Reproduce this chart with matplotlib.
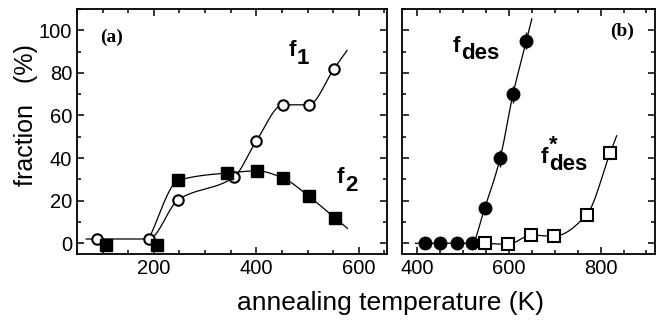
import numpy as np
import matplotlib
matplotlib.use("Agg")
import matplotlib.pyplot as plt
from matplotlib.ticker import MultipleLocator

plt.rcParams['font.family'] = ['Liberation Sans', 'DejaVu Sans']

# panel (a)
f1_temp = [90, 190, 248, 356, 400, 452, 502, 552]
f1_val = [2, 2, 20.5, 31, 48, 65, 65, 82]
f2_temp = [106, 206, 248, 343, 402, 453, 503, 553]
f2_val = [-1, -1, 29.5, 33, 34, 30.5, 22, 12]

# panel (b)
fdes_temp = [418, 450, 487, 519, 547, 581, 609, 638]
fdes_val = [0, 0, 0, 0, 16.5, 40, 70, 95]
fdes_err = [0, 0, 0, 0, 2, 4, 4, 4]
fstar_temp = [548, 598, 649, 698, 770, 821]
fstar_val = [0, -0.5, 3.8, 3.3, 13.5, 42.5]


def pchip(x, y, xs):
    x = np.asarray(x, float)
    y = np.asarray(y, float)
    h = np.diff(x)
    d = np.diff(y) / h
    m = np.zeros_like(y)
    m[0], m[-1] = d[0], d[-1]
    for k in range(1, len(x) - 1):
        if d[k - 1] * d[k] > 0:
            w1 = 2 * h[k] + h[k - 1]
            w2 = h[k] + 2 * h[k - 1]
            m[k] = (w1 + w2) / (w1 / d[k - 1] + w2 / d[k])
    i = np.clip(np.searchsorted(x, xs) - 1, 0, len(x) - 2)
    t = (xs - x[i]) / h[i]
    h00 = 2 * t**3 - 3 * t**2 + 1
    h10 = t**3 - 2 * t**2 + t
    h01 = -2 * t**3 + 3 * t**2
    h11 = t**3 - t**2
    return h00 * y[i] + h10 * h[i] * m[i] + h01 * y[i + 1] + h11 * h[i] * m[i + 1], m


def guide(ax, x, y, left=0, right=0):
    xs = np.linspace(x[0], x[-1], 300)
    ys, m = pchip(x, y, xs)
    if left:
        xs = np.r_[x[0] - left, xs]
        ys = np.r_[y[0] - m[0] * left, ys]
    if right:
        xs = np.r_[xs, x[-1] + right]
        ys = np.r_[ys, y[-1] + m[-1] * right]
    ax.plot(xs, ys, color='black', lw=0.9, zorder=1)


def flabel(ax, x, y, sub, sup=None):
    kw = dict(textcoords='offset points', fontsize=16, weight='bold')
    ax.annotate('f', (x, y), xytext=(0, 0), ha='right', va='baseline', **kw)
    if sup:
        # superscript stacked over the subscript in one text
        ax.annotate(sup + '\n' + sub, (x, y), xytext=(0.5, -9), ha='left',
                    va='bottom', linespacing=0.95, **kw)
    else:
        ax.annotate(sub, (x, y), xytext=(0.5, -5.5), ha='left', va='baseline', **kw)


fig = plt.figure(figsize=(6.58, 3.21), dpi=100)
axa = fig.add_axes([0.117, 0.209, 0.471, 0.763])
axb = fig.add_axes([0.611, 0.209, 0.384, 0.763])

for ax in (axa, axb):
    ax.set_ylim(-5, 110)
    ax.set_yticks([0, 20, 40, 60, 80, 100])
    ax.yaxis.set_minor_locator(MultipleLocator(10))
    ax.xaxis.set_major_locator(MultipleLocator(200))
    ax.xaxis.set_minor_locator(MultipleLocator(50))
    ax.tick_params(which='both', direction='in', top=True, right=True, width=1.1)
    ax.tick_params(which='major', length=5, labelsize=14.5)
    ax.tick_params(which='minor', length=3)
    for s in ax.spines.values():
        s.set_linewidth(1.3)

axa.set_xlim(50, 655)
axb.set_xlim(367, 918)
axb.tick_params(labelleft=False)

# guide curves
guide(axa, f1_temp, f1_val, left=22, right=25)
guide(axa, [f1_temp[1]] + f2_temp[2:], [f1_val[1]] + f2_val[2:], right=25)
guide(axb, fdes_temp, fdes_val, left=22, right=12)
guide(axb, fstar_temp, fstar_val, right=14)

axa.plot(f1_temp, f1_val, 'o', ms=7.5, mfc='white', mec='black', mew=1.5, zorder=3)
axa.plot(f2_temp, f2_val, 's', ms=8, mfc='black', mec='black', zorder=3)
axb.errorbar(fdes_temp, fdes_val, yerr=fdes_err, fmt='o', ms=9, mfc='black',
             mec='black', ecolor='black', elinewidth=1, capsize=0, zorder=3)
axb.plot(fstar_temp, fstar_val, 's', ms=8, mfc='white', mec='black', mew=1.5, zorder=3)

axa.text(0.11, 0.886, '(a)', transform=axa.transAxes, ha='center', va='center',
         family='Liberation Serif', weight='bold', fontsize=14)
axb.text(0.87, 0.91, '(b)', transform=axb.transAxes, ha='center', va='center',
         family='Liberation Serif', weight='bold', fontsize=14)

flabel(axa, 478, 87.7, '1')
flabel(axa, 572, 28.3, '2')
flabel(axb, 494, 90, 'des')
flabel(axb, 686, 37.7, 'des', '*')

fig.text(0.593, 0.057, 'annealing temperature (K)', ha='center', va='center', fontsize=19)
fig.text(0.04, 0.64, 'fraction   (%)', ha='center', va='center', rotation=90, fontsize=18)

fig.savefig('out.png', dpi=100)
